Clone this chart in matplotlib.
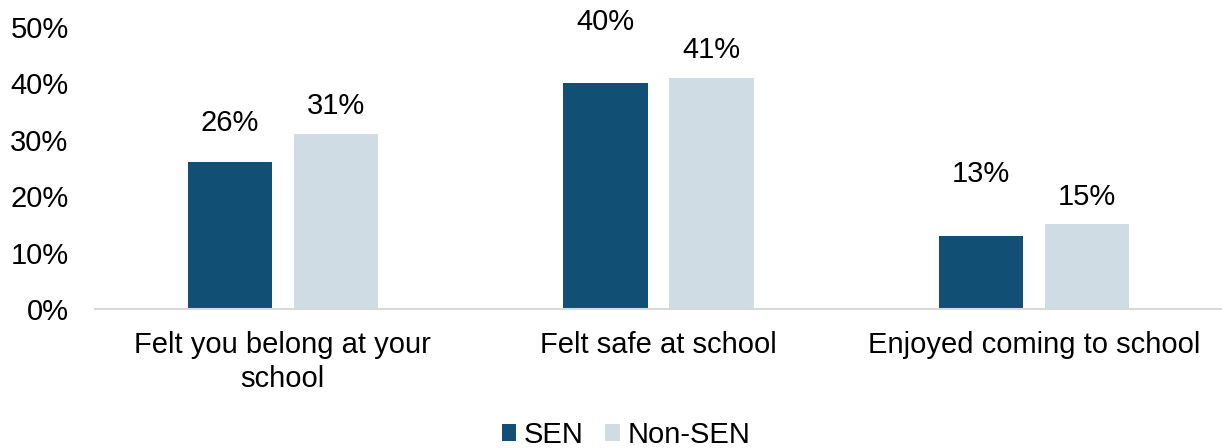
import matplotlib
matplotlib.use("Agg")
import matplotlib.pyplot as plt
import numpy as np

categories = ["Felt you belong at your\nschool", "Felt safe at school", "Enjoyed coming to school"]
sen_values = [26, 40, 13]
non_sen_values = [31, 41, 15]
y_ticks = [0, 10, 20, 30, 40, 50]
series_names = ["SEN", "Non-SEN"]

# label offsets above bar tops (pixels), as in the reference
sen_label_offsets_px = [39, 61, 62]
non_sen_label_offsets_px = [28, 28, 27]

SEN_COLOR = "#124F75"
NON_SEN_COLOR = "#CFDCE4"
FS = 21

plt.rcParams['font.family'] = ['Liberation Sans', 'DejaVu Sans']

fig = plt.figure(figsize=(12.22, 4.48), dpi=100)
ax = fig.add_axes([95/1222, 1-309/448, 1-95/1222, (309-27)/448])

x = np.arange(len(categories))
bw = 0.224
off = 0.141
b1 = ax.bar(x - off, sen_values, bw, color=SEN_COLOR, label=series_names[0])
b2 = ax.bar(x + off, non_sen_values, bw, color=NON_SEN_COLOR, label=series_names[1])

for xi, v, o in zip(x - off, sen_values, sen_label_offsets_px):
    ax.annotate(f"{v}%", (xi, v), xytext=(0, o*0.72), textcoords="offset points",
                ha="center", va="center", fontsize=FS, color="black")
for xi, v, o in zip(x + off, non_sen_values, non_sen_label_offsets_px):
    ax.annotate(f"{v}%", (xi, v), xytext=(0, o*0.72), textcoords="offset points",
                ha="center", va="center", fontsize=FS, color="black")

ax.set_xlim(-0.5, len(categories) - 0.5)
ax.set_ylim(0, 50)
ax.set_yticks(y_ticks)
ax.set_yticklabels([f"{t}%" for t in y_ticks], fontsize=FS)
ax.set_xticks(x)
ax.set_xticklabels(categories, fontsize=FS, linespacing=1.25)
ax.tick_params(axis="y", length=0, pad=19)
ax.tick_params(axis="x", length=0, pad=16)
for s in ["top", "right", "left"]:
    ax.spines[s].set_visible(False)
ax.spines["bottom"].set_color("#D9D9D9")
ax.spines["bottom"].set_linewidth(1.5)
ax.patch.set_alpha(0)

fig.legend(handles=[b1, b2], labels=series_names, loc="center",
           bbox_to_anchor=(626/1222, 1-435/448), ncol=2, frameon=False,
           fontsize=FS, handlelength=0.5, handleheight=0.5,
           handletextpad=0.25, columnspacing=0.75)

fig.savefig("out.png", dpi=100)
